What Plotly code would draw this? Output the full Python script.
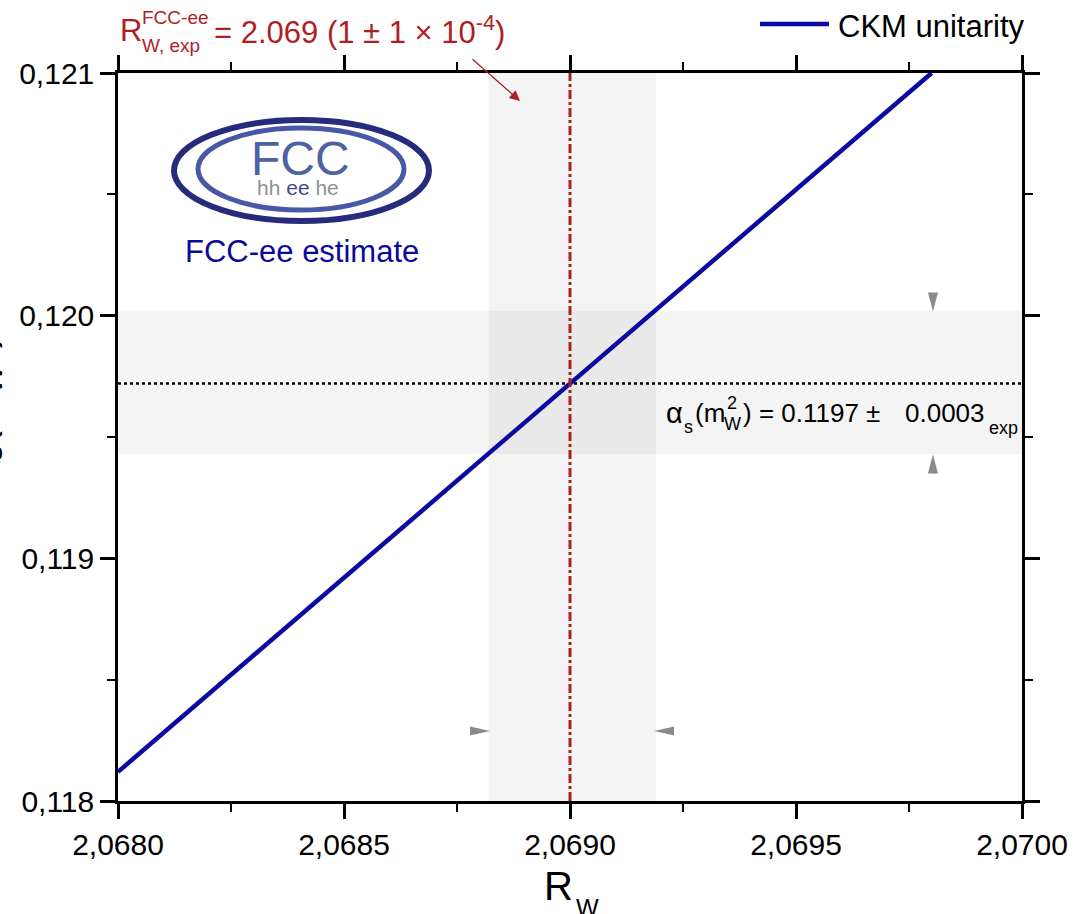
import plotly.graph_objects as go

# ---------------- data ----------------
rw_line = [2.0680, 2.0698]          # CKM unitarity line, x
alpha_line = [0.11812, 0.12100]     # CKM unitarity line, y
rw_exp = 2.069
rw_band = [2.06882, 2.06919]
alpha_center = 0.11972
alpha_band = [0.11943, 0.12002]
x_range = [2.0680, 2.0700]
y_range = [0.1180, 0.1210]
x_ticks = [2.0680, 2.0685, 2.0690, 2.0695, 2.0700]
y_ticks = [0.118, 0.119, 0.120, 0.121]
tri_down = (2.069803, 0.120056)
tri_up = (2.069803, 0.119389)
tri_right = (2.068801, 0.118288)
tri_left = (2.069208, 0.118288)

FONT = "Liberation Sans, Arial, sans-serif"
RED = "#b01e23"
BLUE = "#0a0aa0"

L, R, T, B = 118, 53, 73, 113
W, H = 1075, 914
PW, PH = W - L - R, H - T - B


def px(x):
    return (x - L) / PW


def py(y):
    return (H - B - y) / PH


fig = go.Figure()

# dotted horizontal line
fig.add_trace(go.Scatter(x=x_range, y=[alpha_center, alpha_center], mode="lines",
                         line=dict(color="black", width=2.5, dash="dot"),
                         showlegend=False, hoverinfo="skip"))
# CKM unitarity line
fig.add_trace(go.Scatter(x=rw_line, y=alpha_line, mode="lines",
                         line=dict(color=BLUE, width=4.5), name="CKM unitarity",
                         showlegend=False))
# red dash-dot vertical line
fig.add_trace(go.Scatter(x=[rw_exp, rw_exp], y=y_range, mode="lines",
                         line=dict(color=RED, width=3, dash="dashdot"),
                         showlegend=False, hoverinfo="skip"))

shapes = [
    dict(type="rect", xref="x", yref="y", x0=rw_band[0], x1=rw_band[1],
         y0=y_range[0], y1=y_range[1], fillcolor="rgba(0,0,0,0.042)",
         line=dict(width=0), layer="below"),
    dict(type="rect", xref="x", yref="y", x0=x_range[0], x1=x_range[1],
         y0=alpha_band[0], y1=alpha_band[1], fillcolor="rgba(0,0,0,0.042)",
         line=dict(width=0), layer="below"),
    # legend line
    dict(type="line", xref="paper", yref="paper", x0=px(760), x1=px(829),
         y0=py(24), y1=py(24), line=dict(color=BLUE, width=4.5)),
    # logo rings
    dict(type="circle", xref="paper", yref="paper", x0=px(174), x1=px(429),
         y0=py(221), y1=py(120), line=dict(color="#272b7c", width=6)),
    dict(type="circle", xref="paper", yref="paper", x0=px(198), x1=px(404),
         y0=py(210), y1=py(128), line=dict(color="#4858a6", width=5)),
]

# gray pointer triangles (anchored at data points, drawn in pixel size)
tri_paths = {
    "down": "M-5,9.5 L5,9.5 L0,-9.5 Z",
    "up": "M-5,-9.5 L5,-9.5 L0,9.5 Z",
    "right": "M-10,4.5 L-10,-4.5 L10,0 Z",
    "left": "M10,4.5 L10,-4.5 L-10,0 Z",
}
for pos, key in [(tri_down, "down"), (tri_up, "up"), (tri_right, "right"), (tri_left, "left")]:
    shapes.append(dict(type="path", xref="x", yref="y", xsizemode="pixel",
                       ysizemode="pixel", xanchor=pos[0], yanchor=pos[1],
                       path=tri_paths[key], fillcolor="#8a8a8a", line=dict(width=0)))

ann = []


def add(text, x, y, size, color="black", xa="left", ya="middle", angle=0):
    ann.append(dict(text=text, x=px(x), y=py(y), xref="paper", yref="paper",
                    showarrow=False, xanchor=xa, yanchor=ya, textangle=angle,
                    font=dict(family=FONT, size=size, color=color)))


# legend text
add("CKM unitarity", 836, 26, 31)
# red annotation
add("R", 118, 31, 31, RED)
add("FCC-ee", 140, 17, 19, RED)
add("W, exp", 140, 46, 19, RED)
add("= 2.069 (1 ± 1 × 10<sup>-4</sup>)", 212, 30, 31, RED)
ann.append(dict(x=px(520), y=py(101), ax=471 - 520, ay=58 - 101, xref="paper",
                yref="paper", axref="pixel", ayref="pixel", showarrow=True,
                arrowhead=2, arrowsize=1.6, arrowwidth=1.3, arrowcolor=RED, text=""))
# alpha_s annotation
add("α", 664, 413, 29)
add("s", 682, 427, 18)
add("(m", 693, 413, 26)
add("2", 725, 403, 18)
add("W", 722, 424, 18)
add(") = 0.1197 ±", 741, 413, 26)
add("0.0003", 903, 413, 26)
add("exp", 987, 428, 18)
# logo
add("FCC", 300, 158, 48, "#4d62a0", xa="center")
add("hh\u00a0<span style='color:#3d4a86'>ee</span>\u00a0he", 298, 187, 21,
    "#8f8f96", xa="center")
add("FCC-ee estimate", 302, 251, 31, "#0a0a9a", xa="center")
# axis titles
add("R", 542, 886, 40)
add("W", 574, 907, 24)
add("α<sub>s</sub>(m<sub>W</sub><sup>2</sup>)", 11, 410, 44, xa="right", angle=-90)

axis_common = dict(showline=True, linecolor="black", linewidth=2.5, mirror="allticks",
                   ticks="outside", ticklen=15, tickwidth=2.5, tickcolor="black",
                   showgrid=False, zeroline=False,
                   tickfont=dict(family=FONT, size=30, color="black"))

fig.update_layout(
    width=W, height=H,
    margin=dict(l=L, r=R, t=T, b=B, autoexpand=False),
    paper_bgcolor="white", plot_bgcolor="white",
    separators=",.",
    showlegend=False,
    shapes=shapes, annotations=ann,
    xaxis=dict(range=x_range, tickvals=x_ticks, tickformat=".4f",
               minor=dict(dtick=0.00025, ticklen=8, tickwidth=2, ticks="outside",
                          tickcolor="black", tick0=2.068),
               **axis_common),
    yaxis=dict(range=y_range, tickvals=y_ticks, tickformat=".3f",
               minor=dict(dtick=0.0005, ticklen=8, tickwidth=2, ticks="outside",
                          tickcolor="black", tick0=0.118),
               **axis_common),
)

fig.write_html("out.html")
